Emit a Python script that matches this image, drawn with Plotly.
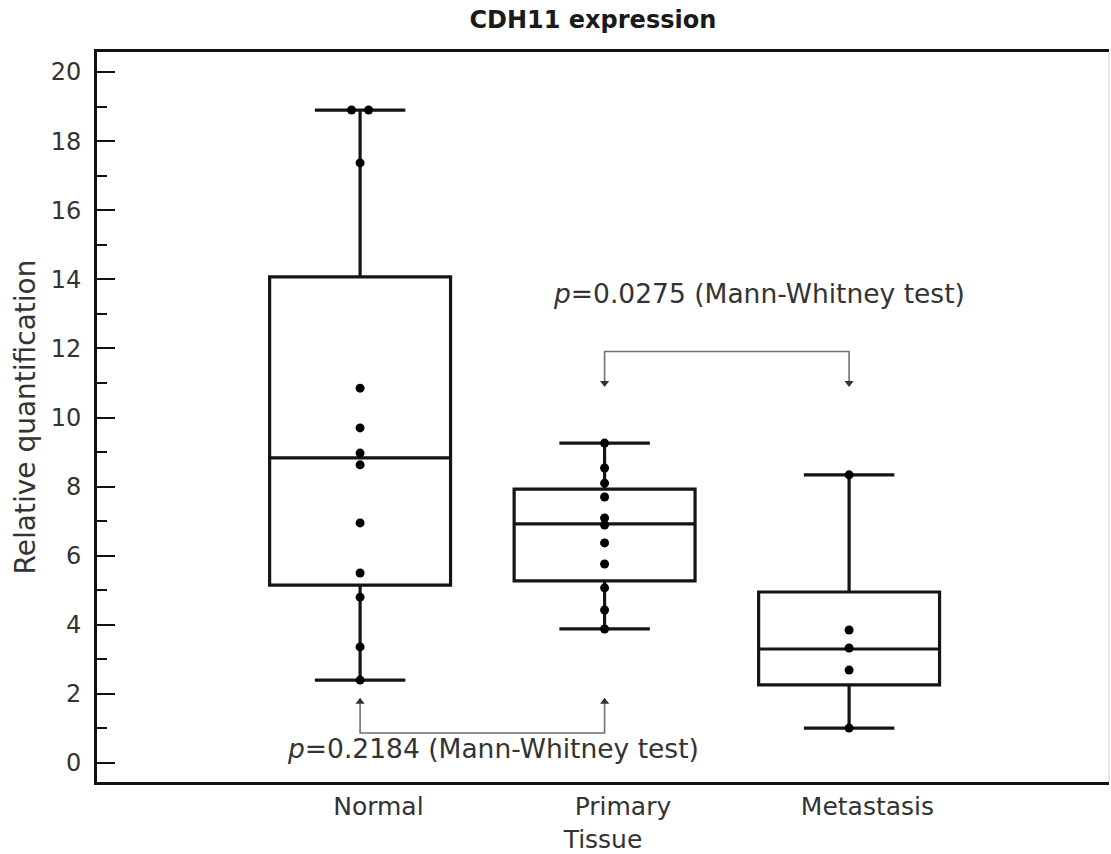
import plotly.graph_objects as go

# ---- data ----
groups = ["Normal", "Primary", "Metastasis"]
group_pos = [0, 1, 2]
q1 = [5.15, 5.27, 2.26]
median = [8.83, 6.92, 3.30]
q3 = [14.07, 7.93, 4.95]
lower_fence = [2.40, 3.88, 1.01]
upper_fence = [18.90, 9.26, 8.34]

normal_pts = [18.90, 18.90, 17.37, 10.85, 9.70, 8.97, 8.63, 6.95, 5.50, 4.80, 3.36, 2.40]
normal_offsets = [-0.035, 0.035, 0, 0, 0, 0, 0, 0, 0, 0, 0, 0]
primary_pts = [9.26, 8.54, 8.10, 7.70, 7.09, 6.89, 6.37, 5.76, 5.07, 4.43, 3.88]
metastasis_pts = [8.34, 3.85, 3.33, 2.69, 1.01]

# comparison brackets: (left group, right group, bar level, arrow tip level)
bracket_upper = dict(x=[1, 2], bar=11.91, tip=11.0,
                     label="<i>p</i>=0.0275 (Mann-Whitney test)", lx=1.63, ly=13.6)
bracket_lower = dict(x=[0, 1], bar=0.87, tip=1.77,
                     label="<i>p</i>=0.2184 (Mann-Whitney test)", lx=0.545, ly=0.43)

FONT = "DejaVu Sans"
TXT = "#333333"

fig = go.Figure()

fig.add_trace(go.Box(
    x=group_pos, q1=q1, median=median, q3=q3,
    lowerfence=lower_fence, upperfence=upper_fence,
    width=0.74, whiskerwidth=0.5,
    fillcolor="white", line=dict(color="#151515", width=3.2),
    boxpoints=False, hoverinfo="skip", showlegend=False,
))

pts_x, pts_y = [], []
for v, off in zip(normal_pts, normal_offsets):
    pts_x.append(group_pos[0] + off); pts_y.append(v)
for v in primary_pts:
    pts_x.append(group_pos[1]); pts_y.append(v)
for v in metastasis_pts:
    pts_x.append(group_pos[2]); pts_y.append(v)

fig.add_trace(go.Scatter(
    x=pts_x, y=pts_y, mode="markers",
    marker=dict(color="black", size=9),
    showlegend=False, hoverinfo="skip",
))

gray = "#707070"
for br, sym in [(bracket_upper, "triangle-down"), (bracket_lower, "triangle-up")]:
    xa, xb = br["x"]
    fig.add_trace(go.Scatter(
        x=[xa, xa, xb, xb], y=[br["tip"], br["bar"], br["bar"], br["tip"]],
        mode="lines", line=dict(color=gray, width=1.6),
        showlegend=False, hoverinfo="skip",
    ))
    fig.add_trace(go.Scatter(
        x=[xa, xb], y=[br["tip"], br["tip"]], mode="markers",
        marker=dict(symbol=sym, color="#333333", size=8),
        showlegend=False, hoverinfo="skip",
    ))
    fig.add_annotation(x=br["lx"], y=br["ly"], text=br["label"], showarrow=False,
                       font=dict(family=FONT, size=26.5, color=TXT))

fig.add_shape(type="line", xref="paper", yref="paper", x0=1, x1=1, y0=0, y1=1,
              line=dict(color="#cccccc", width=1))

label_shift = 0.075  # category labels sit slightly right of the box centres

fig.update_layout(
    width=1111, height=854,
    margin=dict(l=97, r=2, t=52, b=72),
    paper_bgcolor="white", plot_bgcolor="white",
    font=dict(family=FONT, size=24, color=TXT),
    title=dict(text="<b>CDH11 expression</b>", x=0.49, xref="paper",
               y=0.977, yanchor="middle",
               font=dict(family=FONT, size=24, color="#1a1a1a")),
    xaxis=dict(
        range=[-1.076, 3.063], tickvals=[g + label_shift for g in group_pos], ticktext=groups,
        showgrid=False, zeroline=False, ticks="",
        showline=True, linecolor="#111111", linewidth=3, mirror=True,
        title=dict(text="Tissue", standoff=11, font=dict(size=25)),
        tickfont=dict(size=25),
    ),
    yaxis=dict(
        range=[-0.55, 20.58], tickvals=[0, 2, 4, 6, 8, 10, 12, 14, 16, 18, 20],
        showgrid=False, zeroline=False,
        ticks="inside", ticklen=18, tickwidth=2, tickcolor="#111111",
        minor=dict(ticks="inside", ticklen=10, tickwidth=2, tickcolor="#111111",
                   tickvals=[1, 3, 5, 7, 9, 11, 13, 15, 17, 19]),
        showline=True, linecolor="#111111", linewidth=3,
        ticklabelstandoff=8,
        title=dict(text="Relative quantification", standoff=7, font=dict(size=28)),
        tickfont=dict(size=24),
    ),
)

fig.write_html("out.html")
